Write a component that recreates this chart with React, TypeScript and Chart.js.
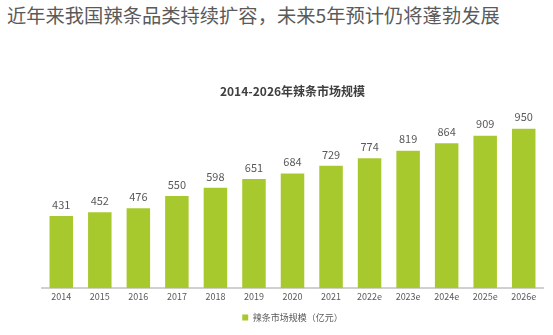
import React, { useEffect, useRef } from "react";
import { Chart, registerables } from "chart.js";

Chart.register(...registerables);

const categories = ["2014", "2015", "2016", "2017", "2018", "2019", "2020", "2021", "2022e", "2023e", "2024e", "2025e", "2026e"];
const marketSize = [431, 452, 476, 550, 598, 651, 684, 729, 774, 819, 864, 909, 950];
const seriesName = "辣条市场规模（亿元）";
const chartTitle = "2014-2026年辣条市场规模";
const heading = "近年来我国辣条品类持续扩容，未来5年预计仍将蓬勃发展";

const FONT = "'Noto Sans CJK SC', 'Noto Sans', sans-serif";

const valueLabels = {
  id: "valueLabels",
  afterDatasetsDraw(chart: any) {
    const ctx = chart.ctx;
    const meta = chart.getDatasetMeta(0);
    ctx.save();
    ctx.font = `11px ${FONT}`;
    ctx.fillStyle = "#595959";
    ctx.textAlign = "center";
    ctx.textBaseline = "bottom";
    meta.data.forEach((bar: any, i: number) => {
      ctx.fillText(String(chart.data.datasets[0].data[i]), bar.x, bar.y - 6);
    });
    ctx.restore();
  },
};

export default function App() {
  const ref = useRef<HTMLCanvasElement | null>(null);
  useEffect(() => {
    document.body.style.margin = "0";
    const chart = new Chart(ref.current!, {
      type: "bar",
      data: {
        labels: categories,
        datasets: [
          {
            label: seriesName,
            data: marketSize,
            backgroundColor: "#A8C92E",
            barPercentage: 0.61,
            categoryPercentage: 1,
          },
        ],
      },
      options: {
        animation: false,
        responsive: false,
        maintainAspectRatio: false,
        layout: { padding: { left: 42, right: 10, top: 84, bottom: 3 } },
        plugins: {
          title: {
            display: true,
            text: chartTitle,
            color: "#404040",
            font: { family: FONT, size: 12, weight: "bold" },
            padding: { top: 0, bottom: 22 },
          },
          legend: {
            display: true,
            position: "bottom",
            labels: {
              color: "#595959",
              font: { family: FONT, size: 9 },
              boxWidth: 6,
              boxHeight: 6,
              padding: 8,
            },
          },
          tooltip: { enabled: false },
        },
        scales: {
          x: {
            grid: { display: false, drawTicks: false, tickLength: 0 },
            border: { color: "#D0D0D0", width: 2 },
            ticks: { color: "#595959", font: { family: FONT, size: 9 }, padding: 3 },
          },
          y: {
            display: false,
            min: 0,
            max: 1000,
          },
        },
      },
      plugins: [valueLabels],
    });
    return () => chart.destroy();
  }, []);
  return (
    <div style={{ position: "absolute", left: 0, top: 0, width: 553, height: 335, background: "#fff" }}>
      <div
        style={{
          position: "absolute",
          left: 7,
          top: 1,
          fontFamily: FONT,
          fontSize: 19.3,
          color: "#5a5a5a",
          whiteSpace: "nowrap",
          lineHeight: "28px",
        }}
      >
        {heading}
      </div>
      <canvas ref={ref} width={553} height={335} style={{ position: "absolute", left: 0, top: 0 }} />
    </div>
  );
}
